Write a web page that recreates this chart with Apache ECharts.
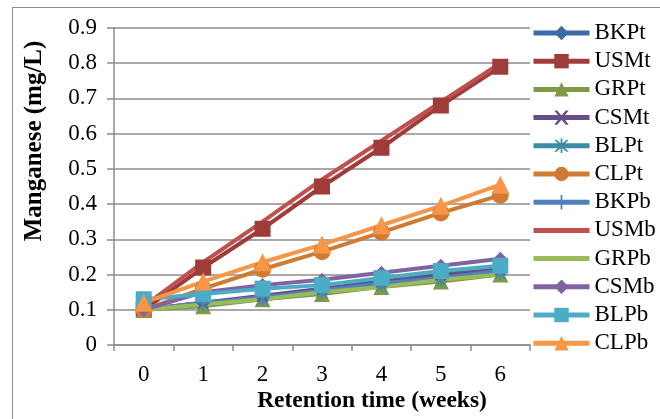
<!DOCTYPE html>
<html>
<head>
<meta charset="utf-8">
<script src="https://cdn.jsdelivr.net/npm/echarts@6/dist/echarts.min.js"></script>
<style>
html,body{margin:0;padding:0;background:#fff;}
#c{width:660px;height:419px;}
</style>
</head>
<body>
<div id="c"></div>
<script>
const weeks = ['0','1','2','3','4','5','6'];
const BKPt = [0.10, 0.12, 0.135, 0.155, 0.175, 0.19, 0.21];
const USMt = [0.10, 0.22, 0.33, 0.45, 0.56, 0.68, 0.79];
const GRPt = [0.10, 0.11, 0.13, 0.145, 0.165, 0.18, 0.20];
const CSMt = [0.10, 0.12, 0.14, 0.16, 0.18, 0.20, 0.215];
const BLPt = [0.10, 0.115, 0.13, 0.15, 0.17, 0.185, 0.205];
const CLPt = [0.10, 0.16, 0.215, 0.265, 0.32, 0.375, 0.425];
const BKPb = [0.10, 0.12, 0.135, 0.155, 0.175, 0.19, 0.21];
const USMb = [0.11, 0.235, 0.35, 0.47, 0.58, 0.69, 0.80];
const GRPb = [0.10, 0.115, 0.13, 0.15, 0.165, 0.185, 0.20];
const CSMb = [0.10, 0.15, 0.17, 0.185, 0.205, 0.225, 0.245];
const BLPb = [0.13, 0.145, 0.16, 0.17, 0.19, 0.21, 0.225];
const CLPb = [0.12, 0.18, 0.235, 0.285, 0.34, 0.395, 0.455];

const names = ['BKPt','USMt','GRPt','CSMt','BLPt','CLPt','BKPb','USMb','GRPb','CSMb','BLPb','CLPb'];
const values = [BKPt,USMt,GRPt,CSMt,BLPt,CLPt,BKPb,USMb,GRPb,CSMb,BLPb,CLPb];
const colors = ['#3D6BA6','#9E3C3A','#7E9A48','#674F86','#3A8EA4','#D07B34',
                '#4F81BD','#C0504D','#9BBB59','#8064A2','#4BACC6','#F79646'];
const XPATH = 'path://M0,0 L2,0 L5,3.5 L8,0 L10,0 L6.2,5 L10,10 L8,10 L5,6.5 L2,10 L0,10 L3.8,5 Z';
const STAR = 'path://M0,0 L1.5,0 L5,3.5 L8.5,0 L10,0 L6,5 L10,10 L8.5,10 L5,6.5 L1.5,10 L0,10 L4,5 Z M4.4,-1 L5.6,-1 L5.6,11 L4.4,11 Z';
const PLUS = 'path://M4.4,0 L5.6,0 L5.6,4.4 L10,4.4 L10,5.6 L5.6,5.6 L5.6,10 L4.4,10 L4.4,5.6 L0,5.6 L0,4.4 L4.4,4.4 Z';
const symbols = ['diamond','rect','triangle',XPATH,STAR,'circle',PLUS,'none','none','diamond','rect','triangle'];
const sizes = [14,16,16,12,14,17,14,0,0,14,16,18];

const series = names.map((n,i)=>({
  name:n, type:'line', data:values[i],
  symbol:symbols[i], symbolSize:sizes[i], symbolKeepAspect:true,
  showSymbol:symbols[i]!=='none',
  lineStyle:{color:colors[i], width:4},
  itemStyle:{color:colors[i], borderWidth:0, opacity: symbols[i]==='none'?0:1},
  animation:false
}));

const legendData = names.map((n,i)=>({
  name:n,
  itemStyle: symbols[i]==='none' ? {opacity:0} : {color:colors[i], opacity:1}
}));

const chart = echarts.init(document.getElementById('c'), null, {renderer:'canvas'});
chart.setOption({
  backgroundColor:'#fff',
  animation:false,
  color:colors,
  grid:{left:114, right:130, top:28, bottom:74, containLabel:false},
  xAxis:{type:'category', data:weeks, boundaryGap:true,
    axisLine:{lineStyle:{color:'#8c8c8c', width:1.5}},
    axisTick:{show:true, length:6, inside:false, alignWithLabel:false, lineStyle:{color:'#8c8c8c', width:1.5}},
    axisLabel:{fontFamily:'Liberation Serif', fontSize:23, color:'#000', margin:18},
    splitLine:{show:false}
  },
  yAxis:{type:'value', min:0, max:0.9, interval:0.1,
    axisLine:{show:true, lineStyle:{color:'#8c8c8c', width:1.5}},
    axisTick:{show:true, length:7, lineStyle:{color:'#8c8c8c', width:1.5}},
    axisLabel:{fontFamily:'Liberation Serif', fontSize:23, color:'#000', margin:17,
      formatter:v=>String(Math.round(v*10)/10)},
    splitLine:{show:true, lineStyle:{color:'#8c8c8c', width:1.5}}
  },
  legend:{orient:'vertical', left:531, top:21, padding:0, itemWidth:56, itemHeight:18, itemGap:4.2,
    lineStyle:{width:5},
    textStyle:{fontFamily:'Liberation Serif', fontSize:23, color:'#000', lineHeight:24},
    data:legendData},
  graphic:[
    {type:'line', shape:{x1:12,y1:7.5,x2:660,y2:7.5}, style:{stroke:'#8c8c8c', lineWidth:1}},
    {type:'line', shape:{x1:12.5,y1:7,x2:12.5,y2:419}, style:{stroke:'#8c8c8c', lineWidth:1}},
    {type:'text', x:372, y:401, style:{text:'Retention time (weeks)', fontFamily:'Liberation Serif', fontWeight:'bold', fontSize:23.5, fill:'#000', textAlign:'center', textVerticalAlign:'middle'}},
    {type:'text', x:35, y:141, rotation:Math.PI/2, style:{text:'Manganese (mg/L)', fontFamily:'Liberation Serif', fontWeight:'bold', fontSize:25, fill:'#000', textAlign:'center', textVerticalAlign:'middle'}}
  ],
  series:series
});
</script>
</body>
</html>
